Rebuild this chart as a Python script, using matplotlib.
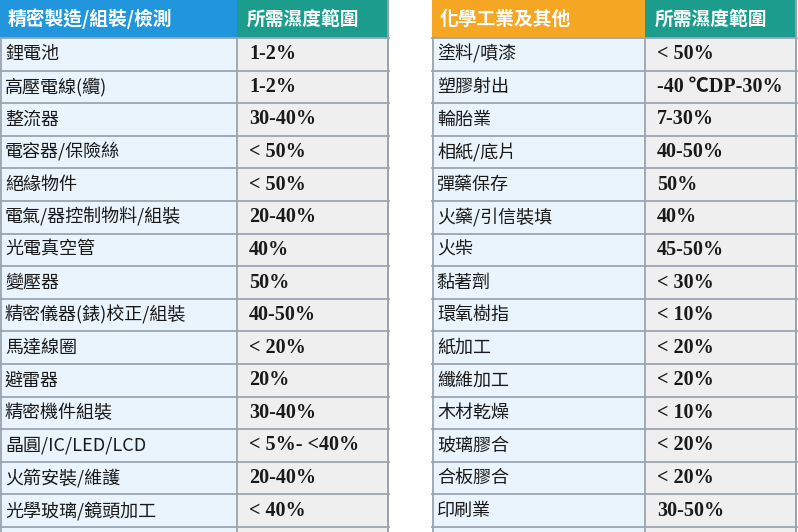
import matplotlib.pyplot as plt
from matplotlib.patches import Rectangle

left_header = ["精密製造/組裝/檢測", "所需濕度範圍"]
left_items = ["鋰電池", "高壓電線(纜)", "整流器", "電容器/保險絲", "絕緣物件", "電氣/器控制物料/組裝",
              "光電真空管", "變壓器", "精密儀器(錶)校正/組裝", "馬達線圈", "避雷器", "精密機件組裝",
              "晶圓/IC/LED/LCD", "火箭安裝/維護", "光學玻璃/鏡頭加工"]
left_values = ["1-2%", "1-2%", "30-40%", "< 50%", "< 50%", "20-40%", "40%", "50%", "40-50%",
               "< 20%", "20%", "30-40%", "< 5%- <40%", "20-40%", "< 40%"]
right_header = ["化學工業及其他", "所需濕度範圍"]
right_items = ["塗料/噴漆", "塑膠射出", "輪胎業", "相紙/底片", "彈藥保存", "火藥/引信裝填", "火柴",
               "黏著劑", "環氧樹指", "紙加工", "纖維加工", "木材乾燥", "玻璃膠合", "合板膠合", "印刷業"]
right_values = ["< 50%", "-40 ℃DP-30%", "7-30%", "40-50%", "50%", "40%", "45-50%", "< 30%",
                "< 10%", "< 20%", "< 20%", "< 10%", "< 20%", "< 20%", "30-50%"]

W, H = 798, 532
fig = plt.figure(figsize=(W/100, H/100), dpi=100)
ax = fig.add_axes([0, 0, 1, 1])
ax.set_xlim(0, W); ax.set_ylim(H, 0); ax.axis('off')
cjk = ['Noto Sans CJK TC', 'DejaVu Sans']
ser = ['Liberation Serif', 'Noto Sans CJK TC']
head_h = 38; row_h = 32.6
line_c = '#9aa5b1'

def table(x0, x1, x2, header, items, values, hc1):
    hc2 = '#1b9c8c'
    ax.add_patch(Rectangle((x0, 0), x1-x0, head_h, fc=hc1, ec='none'))
    ax.add_patch(Rectangle((x1, 0), x2-x1, head_h, fc=hc2, ec='none'))
    ax.text(x0+8, head_h/2, header[0], family=cjk, fontsize=13.5, color='white', weight='bold', va='center')
    ax.text(x1+10, head_h/2, header[1], family=cjk, fontsize=13.5, color='white', weight='bold', va='center')
    n = len(items)
    ytop = head_h; ybot = head_h + row_h*(n+1)
    ax.add_patch(Rectangle((x0, ytop), x1-x0, ybot-ytop, fc='#eaf4fc', ec='none'))
    ax.add_patch(Rectangle((x1, ytop), x2-x1, ybot-ytop, fc='#efefef', ec='none'))
    for i, (it, v) in enumerate(zip(items, values)):
        yc = ytop + row_h*(i+0.5)
        ax.text(x0+5, yc, it, family=cjk, fontsize=13, color='#1a1a1a', va='center')
        ax.text(x1+12, yc, v, family=ser, fontsize=14.5, color='#1a1a1a', va='center', weight='semibold')
    for i in range(n+2):
        ax.plot([x0, x2], [ytop+row_h*i]*2, color=line_c, lw=1.3)
    for x in (x0+1, x1, x2-1):
        ax.plot([x, x], [ytop, ybot], color=line_c, lw=1.3)
    ax.plot([x2-1, x2-1], [0, ybot], color=line_c, lw=1.3)

table(0, 237, 389, left_header, left_items, left_values, '#2196dc')
table(432, 645, 797, right_header, right_items, right_values, '#f5a623')
fig.savefig('out.png', dpi=100)
